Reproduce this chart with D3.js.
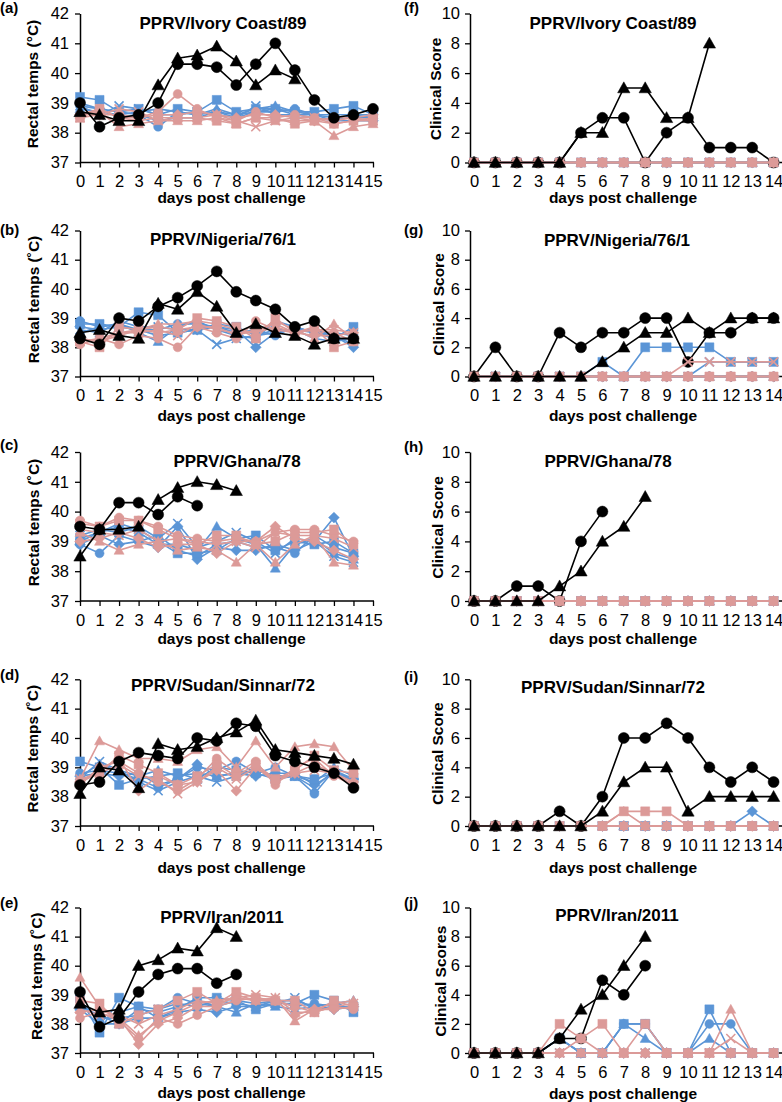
<!DOCTYPE html>
<html><head><meta charset="utf-8">
<script src="https://cdn.jsdelivr.net/npm/d3@7"></script>
<style>
body{margin:0;background:#fff}
svg{display:block}
text{font-family:"Liberation Sans",Arial,Helvetica,sans-serif;fill:#000}
</style>
</head><body>
<svg id="chart" width="782" height="1102"></svg>
<script>
// ---------- tick labels ----------
const tempTicks = [37, 38, 39, 40, 41, 42];
const scoreTicks = [0, 2, 4, 6, 8, 10];
const leftDays = [0,1,2,3,4,5,6,7,8,9,10,11,12,13,14,15];
const rightDays = [0,1,2,3,4,5,6,7,8,9,10,11,12,13,14];

// marker order of the five animals in each coloured group
const groupMarkers = ['circle', 'triangle', 'x', 'diamond', 'square'];
const blackMarkers = ['circle', 'triangle'];

// ---------- (a) PPRV/Ivory Coast/89 : rectal temps ----------
const aBlack = [
  [39.0,38.2,38.5,38.6,39.0,40.3,40.3,40.2,39.6,40.3,41.0,40.1,39.1,38.5,38.6,38.8],
  [38.7,38.6,38.4,38.4,39.6,40.5,40.6,40.9,40.4,39.6,40.1,39.8,null,null,null,null]
];
const aBlue = [
  [38.9,38.8,38.7,38.6,38.2,38.7,38.6,38.7,38.6,38.7,38.7,38.8,38.6,38.5,38.5,38.5],
  [38.8,38.7,38.6,38.7,38.8,38.7,38.6,38.8,38.6,38.8,38.9,38.7,38.6,38.6,38.6,38.6],
  [38.9,38.6,38.9,38.8,38.6,38.6,38.7,38.6,38.5,38.9,38.6,38.6,38.5,38.4,38.6,38.5],
  [39.0,38.8,38.5,38.6,38.4,38.5,38.5,38.7,38.5,38.7,38.8,38.6,38.6,38.4,38.4,38.4],
  [39.2,39.1,38.7,38.8,38.6,38.8,38.7,39.1,38.7,38.8,38.8,38.7,38.7,38.8,38.9,38.6]
];
const aPink = [
  [38.6,38.8,38.5,38.5,38.7,39.3,38.8,38.5,38.4,38.7,38.5,38.6,38.5,38.3,38.4,38.5],
  [38.6,38.7,38.2,38.3,38.4,38.4,38.4,38.5,38.3,38.5,38.4,38.4,38.4,37.9,38.2,38.3],
  [38.5,38.6,38.8,38.7,38.4,38.5,38.5,38.6,38.4,38.2,38.4,38.5,38.5,38.4,38.5,38.4],
  [38.6,38.6,38.6,38.5,38.6,38.6,38.7,38.6,38.5,38.6,38.6,38.5,38.4,38.5,38.5,38.6],
  [38.5,38.8,38.5,38.4,38.5,38.5,38.5,38.4,38.3,38.5,38.5,38.3,38.4,38.3,38.4,38.4]
];

// ---------- (b) PPRV/Nigeria/76/1 ----------
const bBlack = [
  [38.3,38.1,39.0,38.9,39.4,39.7,40.1,40.6,39.9,39.6,39.3,38.7,38.9,38.3,38.3],
  [38.5,38.6,38.4,38.3,39.5,39.3,39.9,39.4,38.5,38.8,38.5,38.4,38.1,38.3,38.3]
];
const bBlue = [
  [38.9,38.7,38.8,38.6,38.6,38.8,38.8,38.7,38.5,38.6,38.4,38.7,38.5,38.4,38.1],
  [38.5,38.7,38.8,38.5,38.2,38.7,38.9,38.6,38.4,38.3,38.9,38.7,38.5,38.5,38.4],
  [38.6,38.5,38.9,38.7,38.7,38.6,38.6,38.1,38.3,38.4,38.6,38.6,38.3,38.2,38.3],
  [38.7,38.6,38.7,38.6,38.4,38.5,38.6,38.7,38.6,38.0,38.5,38.6,38.6,38.4,38.0],
  [38.8,38.8,38.7,39.2,39.1,38.5,38.6,38.8,38.7,38.4,38.5,38.6,38.5,38.3,38.7]
];
const bPink = [
  [38.1,38.3,38.1,38.4,38.3,38.0,38.7,38.5,38.3,38.9,38.6,38.5,38.6,38.5,38.2],
  [38.3,38.2,38.5,38.6,38.8,38.8,38.9,38.8,38.6,38.5,38.9,38.6,38.3,38.8,38.3],
  [38.2,38.3,38.5,38.5,38.6,38.4,38.8,38.6,38.5,38.5,38.7,38.5,38.6,38.6,38.5],
  [38.3,38.2,38.4,38.6,38.7,38.6,38.7,38.7,38.4,38.6,38.8,38.5,38.4,38.4,38.5],
  [38.2,38.0,38.7,38.6,38.5,38.6,39.0,38.9,38.7,38.3,39.0,38.5,38.7,38.0,38.2]
];

// ---------- (c) PPRV/Ghana/78 ----------
const cBlack = [
  [39.5,39.4,40.3,40.3,39.9,40.5,40.2,null,null,null,null,null,null,null,null],
  [38.5,39.4,39.4,39.5,40.4,40.8,41.0,40.9,40.7,null,null,null,null,null,null]
];
const cBlue = [
  [38.9,38.6,39.2,39.0,39.2,38.7,38.5,38.9,39.0,38.8,38.8,38.6,39.2,38.8,38.6],
  [39.0,39.3,39.5,39.3,38.9,38.9,38.7,39.5,39.1,38.9,38.1,38.9,39.1,38.6,38.4],
  [39.2,39.4,39.3,39.5,39.1,39.6,38.8,39.0,39.3,39.0,38.6,39.1,39.0,38.5,38.3],
  [38.9,39.2,38.9,39.0,38.8,39.5,38.4,38.8,38.7,38.7,38.9,38.7,39.0,39.8,38.5],
  [39.1,39.3,39.6,39.4,39.0,38.6,38.6,38.7,39.1,39.2,38.7,39.0,38.9,39.0,38.6]
];
const cPink = [
  [39.7,39.5,39.8,39.7,39.5,39.2,39.1,39.0,39.1,39.0,39.3,39.4,39.4,39.2,39.0],
  [39.3,39.0,38.7,38.9,39.0,38.7,38.8,38.7,38.3,38.9,38.3,38.9,39.2,38.3,38.2],
  [39.4,39.3,39.2,39.4,39.0,39.1,39.0,38.9,39.0,38.8,39.3,39.2,39.2,39.1,38.8],
  [39.0,39.1,39.3,39.1,38.8,38.9,38.9,38.6,39.0,39.0,39.5,39.1,39.0,38.7,38.4],
  [39.6,39.5,39.7,39.7,39.4,39.1,38.9,39.2,39.2,38.9,39.0,39.3,39.3,39.4,38.9]
];

// ---------- (d) PPRV/Sudan/Sinnar/72 ----------
const dBlack = [
  [38.4,38.5,39.2,39.5,39.4,39.3,40.0,39.9,40.5,40.4,39.4,39.2,39.0,38.8,38.3],
  [38.1,39.0,38.9,38.3,39.8,39.6,39.7,40.0,40.2,40.6,39.6,39.5,39.4,39.3,39.1]
];
const dBlue = [
  [38.8,38.9,38.8,38.6,38.3,38.6,39.0,38.9,39.2,38.8,39.0,38.7,38.1,38.9,38.6],
  [38.7,39.1,38.9,38.7,38.9,38.7,38.8,38.7,38.8,38.9,38.7,38.7,38.5,39.0,38.7],
  [38.6,39.2,38.9,38.5,38.2,38.5,38.7,38.5,38.7,38.9,38.7,38.7,38.3,38.9,38.5],
  [38.7,38.8,38.7,38.8,38.4,38.6,39.1,38.7,38.8,38.7,38.8,38.8,38.4,38.8,38.6],
  [39.2,39.0,38.4,38.6,38.7,38.8,38.6,39.0,38.9,38.8,38.6,38.7,38.6,38.8,38.6]
];
const dPink = [
  [38.4,39.0,39.2,38.8,38.5,38.2,38.6,39.3,38.8,39.2,38.4,39.0,39.3,38.7,38.4],
  [38.6,39.9,39.6,39.3,39.3,39.2,39.6,39.7,39.0,39.9,39.0,39.7,39.8,39.7,38.9],
  [38.6,38.8,39.1,38.7,38.6,38.1,38.5,39.0,38.6,39.0,38.6,38.8,38.9,38.8,38.4],
  [38.5,38.9,39.3,38.2,38.7,38.4,38.5,38.9,38.2,39.0,38.5,38.8,39.1,38.8,38.5],
  [38.5,38.8,39.4,39.1,38.8,38.4,38.7,39.1,38.7,39.1,38.6,38.9,39.4,38.9,38.8]
];

// ---------- (e) PPRV/Iran/2011 ----------
const eBlack = [
  [39.1,37.9,38.2,39.1,39.7,39.9,39.9,39.4,39.7,null,null,null,null,null,null],
  [38.7,38.4,38.5,40.0,40.2,40.6,40.5,41.3,41.0,null,null,null,null,null,null]
];
const eBlue = [
  [38.8,38.1,38.4,38.6,38.5,38.9,38.7,38.6,38.8,38.7,38.8,38.6,38.7,38.6,38.5],
  [38.6,38.3,38.0,38.5,38.4,38.6,38.8,38.6,38.4,38.7,38.6,38.5,38.6,38.7,38.8],
  [38.7,38.2,38.2,38.3,38.5,38.7,38.6,38.8,38.7,38.6,38.7,38.9,38.5,38.6,38.6],
  [38.5,38.0,38.0,38.2,38.2,38.4,38.5,38.4,38.6,38.6,38.8,38.8,38.6,38.5,38.6],
  [38.9,37.7,38.9,38.6,38.2,38.5,38.9,38.9,38.8,38.5,38.7,38.7,39.0,38.8,38.4]
];
const ePink = [
  [38.2,38.4,38.1,37.5,38.2,38.0,38.3,38.6,38.8,38.9,38.8,38.6,38.4,38.6,38.5],
  [39.6,38.6,38.2,37.6,38.1,38.4,38.7,38.8,38.9,38.8,38.9,38.1,38.5,38.7,38.8],
  [38.5,38.3,38.3,38.0,38.3,38.5,38.8,38.7,38.9,39.0,38.9,38.4,38.4,38.6,38.7],
  [38.4,38.5,38.2,37.3,38.0,38.2,38.6,38.6,39.0,38.8,38.8,38.3,38.5,38.5,38.6],
  [38.8,38.7,38.0,38.3,38.5,38.8,39.1,38.7,39.1,38.9,38.8,38.8,38.4,38.8,38.6]
];

// ---------- (f) clinical score, Ivory Coast/89 ----------
const zeros15 = [0,0,0,0,0,0,0,0,0,0,0,0,0,0,0];
const fBlack = [
  [0,0,0,0,0,2,3,3,0,2,3,1,1,1,0],
  [0,0,0,0,0,2,2,5,5,3,3,8,null,null,null]
];
const fBlue = [zeros15, zeros15, zeros15, zeros15, zeros15];
const fPink = [zeros15, zeros15, zeros15, zeros15, zeros15];

// ---------- (g) Nigeria/76/1 ----------
const gBlack = [
  [0,2,0,0,3,2,3,3,4,4,1,3,3,4,4],
  [0,0,0,0,0,0,1,2,3,3,4,3,4,4,4]
];
const gBlue = [
  zeros15,
  zeros15,
  [0,0,0,0,0,0,0,0,0,0,0,1,1,1,1],
  zeros15,
  [0,0,0,0,0,0,1,0,2,2,2,2,1,1,1]
];
const gPink = [
  zeros15,
  zeros15,
  [0,0,0,0,0,0,0,0,0,0,1,1,1,1,1],
  zeros15,
  zeros15
];

// ---------- (h) Ghana/78 ----------
const hBlack = [
  [0,0,1,1,0,4,6,null,null,null,null,null,null,null,null],
  [0,0,0,0,1,2,4,5,7,null,null,null,null,null,null]
];
const hBlue = [zeros15, zeros15, zeros15, zeros15, zeros15];
const hPink = [zeros15, zeros15, zeros15, zeros15, zeros15];

// ---------- (i) Sudan/Sinnar/72 ----------
const iBlack = [
  [0,0,0,0,1,0,2,6,6,7,6,4,3,4,3],
  [0,0,0,0,0,0,1,3,4,4,1,2,2,2,2]
];
const iBlue = [
  zeros15,
  zeros15,
  zeros15,
  [0,0,0,0,0,0,0,0,0,0,0,0,0,1,0],
  zeros15
];
const iPink = [
  zeros15,
  [0,0,0,0,0,0,0,1,0,0,0,0,0,0,0],
  zeros15,
  zeros15,
  [0,0,0,0,0,0,0,1,1,1,0,0,0,0,0]
];

// ---------- (j) Iran/2011 ----------
const jBlack = [
  [0,0,0,0,1,1,5,4,6,null,null,null,null,null,null],
  [0,0,0,0,1,3,4,6,8,null,null,null,null,null,null]
];
const jBlue = [
  [0,0,0,0,1,0,0,2,2,0,0,2,2,0,0],
  [0,0,0,0,1,0,0,2,1,0,0,1,0,0,0],
  zeros15,
  zeros15,
  [0,0,0,0,1,0,0,2,2,0,0,3,0,0,0]
];
const jPink = [
  zeros15,
  [0,0,0,0,0,0,0,0,0,0,0,0,3,0,0],
  [0,0,0,0,0,0,0,0,0,0,0,0,1,0,0],
  [0,0,0,0,0,1,0,0,0,0,0,0,0,0,0],
  [0,0,0,0,2,1,2,0,2,0,0,0,0,0,0]
];

// ---------- panel texts ----------
const panelTitles = ['PPRV/Ivory Coast/89','PPRV/Nigeria/76/1','PPRV/Ghana/78','PPRV/Sudan/Sinnar/72','PPRV/Iran/2011'];
const leftLetters = ['(a)','(b)','(c)','(d)','(e)'];
const rightLetters = ['(f)','(g)','(h)','(i)','(j)'];
const leftYTitles = ['Rectal temps (°C)','Rectal temps (˚C)','Rectal temps (˚C)','Rectal temps (˚C)','Rectal temps (˚C)'];
const rightYTitles = ['Clinical Score','Clinical Score','Clinical Score','Clinical Score','Clinical Scores'];
const xTitle = 'days post challenge';

const leftData = [[aBlack,aBlue,aPink],[bBlack,bBlue,bPink],[cBlack,cBlue,cPink],[dBlack,dBlue,dPink],[eBlack,eBlue,ePink]];
const rightData = [[fBlack,fBlue,fPink],[gBlack,gBlue,gPink],[hBlack,hBlue,hPink],[iBlack,iBlue,iPink],[jBlack,jBlue,jPink]];

// ---------- layout & style ----------
const BLACK = '#000000', BLUE = '#5B95D6', PINK = '#DC9A98';
const rowTop = [13.5, 230.5, 452, 679.3, 907.5];
const rowBot = [162.5, 376.5, 601, 826, 1053];
const leftXTitleY = [197, 415, 638, 867, 1092];
const rightXTitleY = [197, 415, 638, 867, 1093];
const leftTitlePos = [[223,23],[223,238.5],[237,460.5],[223,685],[222,916.5]];
const rightTitlePos = [[613,23],[617,240],[608,460.5],[613,686.5],[617,915]];
const leftLetterY = [7.5, 230, 445, 675, 903];
const rightLetterY = [8, 230, 447, 677, 903];
const leftYTitleX = [32, 33, 33, 32, 36];
const rightYTitleX = [435, 438, 437, 437, 440];

const svg = d3.select('#chart');

function markerPath(type, s) {
  const h = s / 2;
  if (type === 'circle') return d3.symbol(d3.symbolCircle, Math.PI * h * h)();
  if (type === 'square') return `M${-h},${-h}H${h}V${h}H${-h}Z`;
  if (type === 'diamond') { const k = h * 1.2; return `M0,${-k}L${k},0L0,${k}L${-k},0Z`; }
  if (type === 'triangle') { const k = h * 1.12; return `M0,${-k}L${k},${k*0.78}L${-k},${k*0.78}Z`; }
  return `M${-h},${-h}L${h},${h}M${h},${-h}L${-h},${h}`;
}

function drawSeries(g, x, y, values, color, marker, size) {
  const pts = values.map((v, i) => ({ d: i, v })).filter(p => p.v !== null && p.v !== undefined);
  const line = d3.line().x(p => x(p.d)).y(p => y(p.v));
  g.append('path').attr('d', line(pts)).attr('fill', 'none')
    .attr('stroke', color).attr('stroke-width', 1.6).attr('stroke-linejoin', 'round');
  const path = markerPath(marker, size);
  g.selectAll(null).data(pts).enter().append('path')
    .attr('transform', p => `translate(${x(p.d)},${y(p.v)})`)
    .attr('d', path)
    .attr('fill', marker === 'x' ? 'none' : color)
    .attr('stroke', color)
    .attr('stroke-width', marker === 'x' ? 1.6 : 0.5);
}

function styleAxis(g) {
  g.select('.domain').attr('stroke', '#000').attr('stroke-width', 1.5);
  g.selectAll('.tick line').attr('stroke', '#000').attr('stroke-width', 1.3);
  g.selectAll('.tick text').style('font-size', '16.5px')
    .style('font-family', '"Liberation Sans",Arial,sans-serif').attr('fill', '#000');
}

function drawPanel(opts) {
  const { side, row, data } = opts;
  const isLeft = side === 'left';
  const top = rowTop[row], bot = rowBot[row];
  const x = isLeft
    ? d3.scaleLinear().domain([0, 15]).range([80, 373])
    : d3.scaleLinear().domain([0, 14]).range([474, 773.6]);
  const y = isLeft
    ? d3.scaleLinear().domain([37, 42]).range([bot, top])
    : d3.scaleLinear().domain([0, 10]).range([bot, top]);
  const axisX = isLeft ? 80 : 470;
  const axisEnd = isLeft ? 374 : 782;
  const g = svg.append('g');

  // y axis
  const ya = g.append('g').attr('transform', `translate(${axisX},0)`)
    .call(d3.axisLeft(y).tickValues(isLeft ? tempTicks : scoreTicks).tickSize(5).tickPadding(isLeft ? 6 : 5).tickSizeOuter(0).tickFormat(d3.format('d')));
  styleAxis(ya);

  // x axis
  const days = isLeft ? leftDays : rightDays;
  const xa = g.append('g').attr('transform', `translate(0,${bot})`)
    .call(d3.axisBottom(x).tickValues(days).tickSize(5).tickPadding(8).tickSizeOuter(0).tickFormat(d3.format('d')));
  styleAxis(xa);
  xa.select('.domain').attr('d', `M${axisX},0H${axisEnd}`);

  // series: blue group, black circle, pink group, black triangle
  const [blk, blue, pink] = data;
  const plot = g.append('g');
  blue.forEach((vals, i) => drawSeries(plot, x, y, vals, BLUE, groupMarkers[i], 9));
  if (isLeft) {
    pink.forEach((vals, i) => drawSeries(plot, x, y, vals, PINK, groupMarkers[i], 9));
    drawSeries(plot, x, y, blk[0], BLACK, blackMarkers[0], 11);
  } else {
    drawSeries(plot, x, y, blk[0], BLACK, blackMarkers[0], 11);
    pink.forEach((vals, i) => drawSeries(plot, x, y, vals, PINK, groupMarkers[i], 9));
  }
  drawSeries(plot, x, y, blk[1], BLACK, blackMarkers[1], 11);

  // texts
  const tp = isLeft ? leftTitlePos[row] : rightTitlePos[row];
  g.append('text').attr('x', tp[0]).attr('y', tp[1] + 6).attr('text-anchor', 'middle')
    .style('font-size', '17px').style('font-weight', 'bold').text(panelTitles[row]);
  g.append('text').attr('x', isLeft ? 231.5 : 623).attr('y', (isLeft ? leftXTitleY[row] : rightXTitleY[row]) + 5.5)
    .attr('text-anchor', 'middle').style('font-size', '15.5px').style('font-weight', 'bold').text(xTitle);
  const yx = isLeft ? leftYTitleX[row] : rightYTitleX[row];
  const ym = (top + bot) / 2 + (isLeft ? -4 : 1);
  g.append('text').attr('transform', `translate(${yx + 5.5},${ym}) rotate(-90)`)
    .attr('text-anchor', 'middle').style('font-size', '15.5px').style('font-weight', 'bold')
    .text(isLeft ? leftYTitles[row] : rightYTitles[row]);
  g.append('text').attr('x', isLeft ? 0 : 404).attr('y', (isLeft ? leftLetterY[row] : rightLetterY[row]) + 5)
    .style('font-size', '15px').style('font-weight', 'bold')
    .text(isLeft ? leftLetters[row] : rightLetters[row]);
}

for (let r = 0; r < 5; r++) {
  drawPanel({ side: 'left', row: r, data: leftData[r] });
  drawPanel({ side: 'right', row: r, data: rightData[r] });
}
</script>
</body></html>
